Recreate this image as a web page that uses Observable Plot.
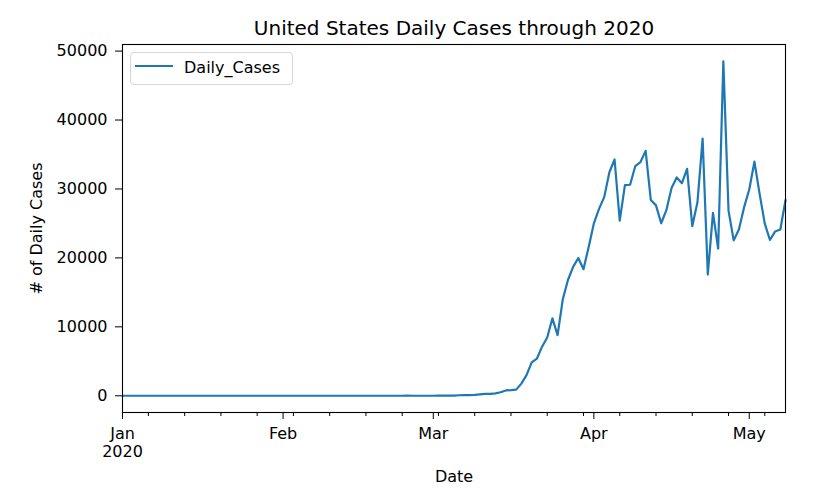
<!DOCTYPE html>
<html>
<head>
<meta charset="utf-8">
<script src="https://cdn.jsdelivr.net/npm/d3@7"></script>
<script src="https://cdn.jsdelivr.net/npm/@observablehq/plot@0.6"></script>
<style>
  html, body { margin: 0; padding: 0; background: #fff; }
  #wrap { position: relative; width: 818px; height: 498px; font-family: "DejaVu Sans", sans-serif; }
  #legend { position: absolute; left: 130px; top: 52px; width: 161px; height: 31px;
    border: 1px solid #d6d6d6; border-radius: 4px; background: rgba(255,255,255,0.8);
    box-sizing: content-box; }
  #legend .sw { position: absolute; left: 4px; top: 12px; width: 38px; height: 0; border-top: 2.2px solid #1f77b4; }
  #legend .lb { position: absolute; left: 53px; top: 5px; font-size: 16px; color: #000; white-space: nowrap; }
</style>
</head>
<body>
<div id="wrap"><div id="legend"><div class="sw"></div><div class="lb">Daily_Cases</div></div></div>
<script>
// ---- data (daily new cases, one value per day from the start date) ----
const startDate = "2020-01-01";
const dailyCases = [
  // January
  0, 0, 0, 0, 0, 0, 0, 0, 0, 0, 0, 0, 0, 0, 0, 0, 0, 0, 0, 0, 0, 1, 0, 0, 1, 0, 3, 0, 0, 0, 1,
  // February
  1, 1, 3, 0, 0, 1, 0, 0, 0, 0, 1, 0, 1, 1, 0, 0, 0, 0, 0, 0, 0, 0, 0, 0, 18, 0, 6, 1, 0,
  // March
  3, 20, 14, 22, 34, 74, 105, 95, 121, 200, 271, 287, 351, 511, 777, 823, 887, 1766, 2988, 4835,
  5374, 7123, 8459, 11236, 8789, 13963, 16797, 18695, 19979, 18360, 21595,
  // April
  24998, 27103, 28819, 32425, 34272, 25398, 30561, 30613, 33323, 33901, 35527, 28391, 27620, 25023, 26922,
  30148, 31667, 30833, 32922, 24601, 28065, 37289, 17588, 26543, 21352, 48529, 26857, 22541, 24132, 27326,
  // May
  29917, 33955, 29288, 24972, 22593, 23841, 24128, 28369
];
const monthTicks = ["2020-01-01", "2020-02-01", "2020-03-01", "2020-04-01", "2020-05-01"];
const monthLabels = ["Jan\n2020", "Feb", "Mar", "Apr", "May"];
const yTicks = [0, 10000, 20000, 30000, 40000, 50000];
const titleText = "United States Daily Cases through 2020";
const seriesName = "Daily_Cases";

// ---- build table ----
const start = new Date(startDate + "T00:00:00Z");
const rows = dailyCases.map((v, i) => ({ date: d3.utcDay.offset(start, i), cases: v }));
const end = rows[rows.length - 1].date;
const majorDates = monthTicks.map(s => new Date(s + "T00:00:00Z"));
const labelOf = new Map(majorDates.map((d, i) => [+d, monthLabels[i]]));
const mondays = d3.utcMonday.range(start, d3.utcDay.offset(end, 1));
const yMax = d3.max(dailyCases), yMin = d3.min(dailyCases);
const pad = (yMax - yMin) * 0.05;

const chart = Plot.plot({
  width: 818,
  height: 498,
  marginLeft: 122,
  marginRight: 33,
  marginTop: 44,
  marginBottom: 86,
  style: { fontFamily: "DejaVu Sans, sans-serif", fontSize: "16px", color: "#000", background: "transparent" },
  x: { type: "utc", domain: [start, end] },
  y: { domain: [yMin - pad, yMax + pad] },
  marks: [
    Plot.axisY({
      ticks: yTicks, tickSize: 7, tickPadding: 8, tickFormat: d => String(d),
      label: "# of Daily Cases", labelAnchor: "center", labelArrow: "none", labelOffset: 92,
      fontSize: 16, stroke: "#000"
    }),
    Plot.axisX({ ticks: mondays, tickSize: 4, tickFormat: () => "", label: null, stroke: "#000" }),
    Plot.axisX({
      ticks: majorDates, tickSize: 7, tickPadding: 6, tickFormat: d => labelOf.get(+d),
      label: "Date", labelAnchor: "center", labelArrow: "none", labelOffset: 69,
      fontSize: 16, lineHeight: 1.15, stroke: "#000"
    }),
    Plot.line(rows, { x: "date", y: "cases", stroke: "#1f77b4", strokeWidth: 2.2 }),
    Plot.frame({ stroke: "#000", strokeWidth: 1.1 }),
    Plot.text([titleText], { frameAnchor: "top", text: d => d, dy: -10, lineAnchor: "bottom", fontSize: 20, fill: "#000" })
  ]
});
chart.style.position = "absolute";
chart.style.left = "0px";
chart.style.top = "0px";
const wrap = document.getElementById("wrap");
wrap.insertBefore(chart, wrap.firstChild);
</script>
</body>
</html>
